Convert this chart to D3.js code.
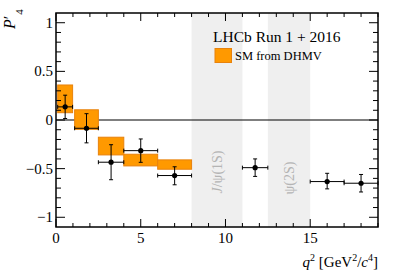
<!DOCTYPE html>
<html>
<head>
<meta charset="utf-8">
<script src="https://cdnjs.cloudflare.com/ajax/libs/d3/7.8.5/d3.min.js"></script>
<style>
  body { margin: 0; background: #fff; }
  svg text { font-family: "Liberation Serif", "DejaVu Serif", serif; }
  .tick-label { font-size: 15px; fill: #000; }
</style>
</head>
<body>
<svg id="chart" width="399" height="271"></svg>
<script>
// measured bins (q2 in GeV^2/c^4)
var binLo = [0.1, 1.1, 2.5, 4, 6, 11, 15, 17];
var binHi = [0.98, 2.5, 4, 6, 8, 12.5, 17, 19];
var p4 = [0.135, -0.085, -0.434, -0.315, -0.571, -0.49, -0.633, -0.65];
var errUp = [0.12, 0.15, 0.18, 0.12, 0.09, 0.09, 0.085, 0.09];
var errDn = [0.12, 0.15, 0.18, 0.12, 0.095, 0.09, 0.075, 0.09];

// SM prediction (DHMV)
var smLo = [0.1, 1.1, 2.5, 4, 6];
var smHi = [0.98, 2.5, 4, 6, 8];
var smTop = [0.36, 0.105, -0.177, -0.352, -0.41];
var smBot = [0.075, -0.096, -0.359, -0.472, -0.506];

// charmonium vetoes
var vetoLo = [8, 12.5];
var vetoHi = [11, 15];
var vetoName = ["J/\u03c8(1S)", "\u03c8(2S)"];

var xTicks = [0, 5, 10, 15];
var yTicks = [-1, -0.5, 0, 0.5, 1];
var yTickText = ["\u22121", "\u22120.5", "0", "0.5", "1"];

var L = 56, R = 378, T = 13, B = 227;
var x = d3.scaleLinear().domain([0, 19]).range([L, R]);
var y = d3.scaleLinear().domain([-1.1, 1.1]).range([B, T]);

var svg = d3.select("#chart");

// veto bands
vetoLo.forEach(function(lo, i) {
  svg.append("rect")
    .attr("x", x(lo)).attr("y", T)
    .attr("width", x(vetoHi[i]) - x(lo)).attr("height", B - T)
    .attr("fill", "#efefef");
  var cx = x((lo + vetoHi[i]) / 2), cy = i == 0 ? 172 : 178;
  var t = svg.append("text")
    .attr("transform", "translate(" + (cx + 5) + "," + cy + ") rotate(-90)")
    .attr("text-anchor", "middle")
    .attr("font-size", 14)
    .attr("fill", "#b4b4b4");
  if (i == 0) {
    t.append("tspan").attr("font-style", "italic").text("J");
    t.append("tspan").text("/\u03c8(1S)");
  } else {
    t.text(vetoName[i]);
  }
});

// zero line
svg.append("line")
  .attr("x1", L).attr("x2", R).attr("y1", y(0)).attr("y2", y(0))
  .attr("stroke", "#000").attr("stroke-width", 1.2);

// SM boxes
smLo.forEach(function(lo, i) {
  svg.append("rect")
    .attr("x", x(lo)).attr("y", y(smTop[i]))
    .attr("width", x(smHi[i]) - x(lo)).attr("height", y(smBot[i]) - y(smTop[i]))
    .attr("fill", "#ff9900").attr("stroke", "#e8820c").attr("stroke-width", 1);
});

// data points with error bars
var g = svg.append("g").attr("stroke", "#000").attr("stroke-width", 1);
binLo.forEach(function(lo, i) {
  var xc = x((lo + binHi[i]) / 2), yc = y(p4[i]);
  var y1 = y(p4[i] + errUp[i]), y2 = y(p4[i] - errDn[i]);
  var x1 = x(lo), x2 = x(binHi[i]);
  g.append("line").attr("x1", x1).attr("x2", x2).attr("y1", yc).attr("y2", yc);
  g.append("line").attr("x1", xc).attr("x2", xc).attr("y1", y1).attr("y2", y2);
  g.append("line").attr("x1", x1).attr("x2", x1).attr("y1", yc - 2).attr("y2", yc + 2);
  g.append("line").attr("x1", x2).attr("x2", x2).attr("y1", yc - 2).attr("y2", yc + 2);
  g.append("line").attr("x1", xc - 2).attr("x2", xc + 2).attr("y1", y1).attr("y2", y1);
  g.append("line").attr("x1", xc - 2).attr("x2", xc + 2).attr("y1", y2).attr("y2", y2);
  svg.append("circle").attr("cx", xc).attr("cy", yc).attr("r", 2.6).attr("fill", "#000");
});

// ticks (inside frame)
var tk = svg.append("g").attr("stroke", "#000").attr("stroke-width", 1);
d3.range(0, 20, 1).forEach(function(v) {
  var len = v % 5 == 0 ? 8 : 4;
  tk.append("line").attr("x1", x(v)).attr("x2", x(v)).attr("y1", B).attr("y2", B - len);
  tk.append("line").attr("x1", x(v)).attr("x2", x(v)).attr("y1", T).attr("y2", T + len);
});
d3.range(-10, 11, 1).forEach(function(k) {
  var v = k / 10, len = k % 5 == 0 ? 9 : 5;
  tk.append("line").attr("x1", L).attr("x2", L + len).attr("y1", y(v)).attr("y2", y(v));
  tk.append("line").attr("x1", R).attr("x2", R - len).attr("y1", y(v)).attr("y2", y(v));
});

// frame
svg.append("rect")
  .attr("x", L).attr("y", T).attr("width", R - L).attr("height", B - T)
  .attr("fill", "none").attr("stroke", "#000").attr("stroke-width", 1.5);

// tick labels
xTicks.forEach(function(v) {
  svg.append("text").attr("class", "tick-label")
    .attr("x", x(v)).attr("y", 243).attr("text-anchor", "middle").text(v);
});
yTicks.forEach(function(v, i) {
  svg.append("text").attr("class", "tick-label")
    .attr("x", 53).attr("y", y(v) + 5).attr("text-anchor", "end").text(yTickText[i]);
});

// axis titles
var xt = svg.append("text").attr("x", R).attr("y", 267)
  .attr("text-anchor", "end").attr("font-size", 15);
xt.append("tspan").attr("font-style", "italic").text("q");
xt.append("tspan").attr("font-size", 10).attr("dy", -6).text("2");
xt.append("tspan").attr("dy", 6).text(" [GeV");
xt.append("tspan").attr("font-size", 10).attr("dy", -6).text("2");
xt.append("tspan").attr("dy", 6).text("/");
xt.append("tspan").attr("font-style", "italic").text("c");
xt.append("tspan").attr("font-size", 10).attr("dy", -6).text("4");
xt.append("tspan").attr("dy", 6).text("]");

var yt = svg.append("text")
  .attr("transform", "translate(15,29) rotate(-90)")
  .attr("font-size", 16);
yt.append("tspan").attr("font-style", "italic").text("P");
yt.append("tspan").text("\u2032");
yt.append("tspan").attr("font-size", 11).attr("dx", 1).attr("dy", 8).text("4");

// legend
svg.append("text").attr("x", 213).attr("y", 42).attr("font-size", 15.5)
  .text("LHCb Run 1 + 2016");
svg.append("rect").attr("x", 215).attr("y", 48.5).attr("width", 16.5).attr("height", 14)
  .attr("fill", "#ff9900").attr("stroke", "#e8820c");
svg.append("text").attr("x", 235).attr("y", 59.5).attr("font-size", 12.5)
  .text("SM from DHMV");
</script>
</body>
</html>
